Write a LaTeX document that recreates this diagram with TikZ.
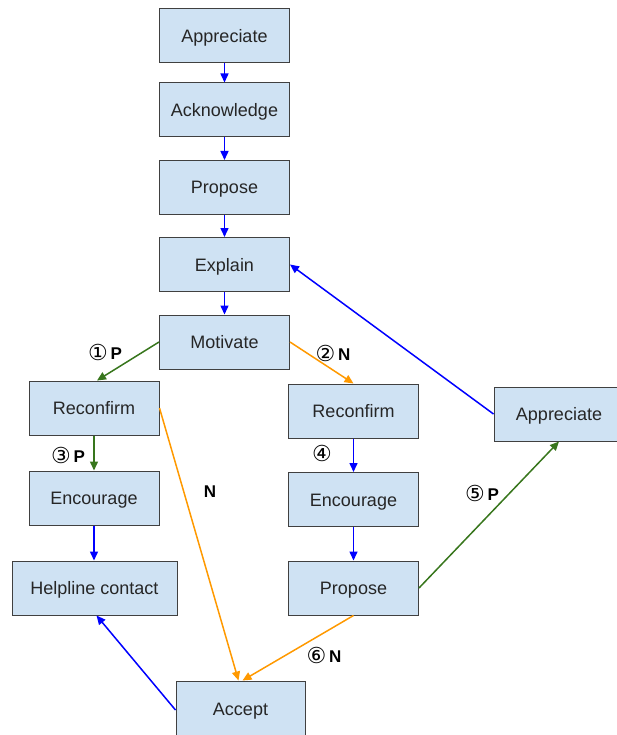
\documentclass[tikz,border=0pt]{standalone}
\usepackage{fontspec}
\setmainfont{Liberation Sans}
\newfontfamily\circfont{DejaVu Sans}
\usetikzlibrary{arrows.meta}
\definecolor{boxfill}{HTML}{CFE2F3}
\definecolor{boxline}{HTML}{404040}
\definecolor{flowblue}{HTML}{0000FF}
\definecolor{flowgreen}{HTML}{38761D}
\definecolor{floworange}{HTML}{FF9900}
\tikzset{
  stepbox/.style={draw=boxline, line width=1pt, fill=boxfill, minimum width=130pt,
    minimum height=54pt, inner sep=0pt, font=\fontsize{18}{20}\selectfont, text=black!85,
    text height=15pt, text depth=2pt},
  flow/.style={line width=1.5pt, -{Triangle[length=9pt,width=8pt]}},
  bluef/.style={flow, draw=flowblue, fill=flowblue},
  greenf/.style={flow, draw=flowgreen, fill=flowgreen},
  orangef/.style={flow, draw=floworange, fill=floworange},
  tag/.style={inner sep=0pt, font=\bfseries\fontsize{17}{19}\selectfont, text=black}
}
\newcommand{\circd}[1]{{\circfont\mdseries\fontsize{22}{22}\selectfont\raisebox{-1pt}{#1}}}
\begin{document}
\begin{tikzpicture}[x=1pt,y=-1pt]
\useasboundingbox (0,0) rectangle (616,735);
% main column
\node[stepbox] (app1) at (224.5,36) {Appreciate};
\node[stepbox] (ack) at (224.5,110) {Acknowledge};
\node[stepbox] (prop1) at (224.5,187.5) {Propose};
\node[stepbox] (expl) at (224.5,264.5) {Explain};
\node[stepbox] (mot) at (224.5,342) {Motivate};
% left branch
\node[stepbox] (rec1) at (94,408) {Reconfirm};
\node[stepbox] (enc1) at (94,498) {Encourage};
\node[stepbox, minimum width=165pt] (help) at (94.5,588) {Helpline contact};
% right branch
\node[stepbox] (rec2) at (353.5,411) {Reconfirm};
\node[stepbox] (enc2) at (353.5,499.5) {Encourage};
\node[stepbox] (prop2) at (353.5,588) {Propose};
\node[stepbox] (app2) at (559,414) {Appreciate};
% bottom
\node[stepbox, minimum width=129pt, minimum height=56pt] (acc) at (240.5,709) {Accept};

% vertical chain
\draw[bluef] (app1) -- (ack);
\draw[bluef] (ack) -- (prop1);
\draw[bluef] (prop1) -- (expl);
\draw[bluef] (expl) -- (mot);

% branches out of Motivate
\draw[greenf] (mot.west) -- ([xshift=3pt]rec1.north);
\draw[orangef] (mot.east) -- (rec2.north);

% left branch
\draw[greenf] (rec1) -- (enc1);
\draw[bluef] (enc1.south) -- (enc1.south |- help.north);
\draw[orangef] (rec1.east) -- ([xshift=-2pt]acc.north);

% right branch
\draw[bluef] (rec2) -- (enc2);
\draw[bluef] (enc2) -- (prop2);
\draw[orangef] (prop2.south) -- ([xshift=2pt]acc.north);
\draw[greenf] (prop2.east) -- (app2.south);
\draw[bluef] (app2.west) -- (expl.east);

% Accept back to helpline
\draw[bluef] ([yshift=-1pt]acc.west) -- ([xshift=2pt]help.south);

% labels
\node[tag] (t1) at (105,352) {\circd{①}\,P};
\node[tag] (t2) at (333,353) {\circd{②}\,N};
\node[tag] (t3) at (68,455) {\circd{③}\,P};
\node[tag] (t4) at (322,453) {\circd{④}};
\node[tag] (t5) at (482,493) {\circd{⑤}\,P};
\node[tag] (t6) at (324,655) {\circd{⑥}\,N};
\node[tag] (tn) at (210,492) {N};
\end{tikzpicture}
\end{document}
